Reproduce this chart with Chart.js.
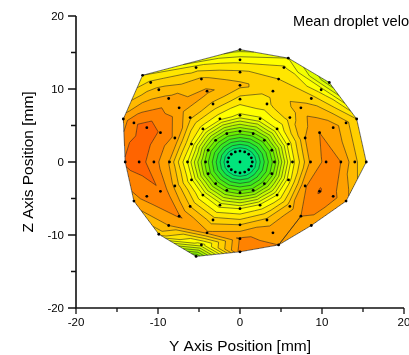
<!DOCTYPE html>
<html>
<head>
<meta charset="utf-8">
<script src="https://cdn.jsdelivr.net/npm/chart.js@4.4.1/dist/chart.umd.min.js"></script>
<style>
  html, body { margin: 0; background: #fff; }
  canvas { display: block; }
</style>
</head>
<body>
<canvas id="chart" width="409" height="355"></canvas>
<script>
// measurement grid: polar positions (deg, mm) and read-off velocity level per ring
const angles = [0, 22.5, 45, 67.5, 90, 112.5, 135, 157.5, 180, 202.5, 225, 247.5, 270, 292.5, 315, 337.5];
const radii = [1.5, 4.2, 6.4, 8.6, 10.5, 12.3, 14.0, 15.4, 16.8];
const centerValue = 0.0;
const ring15  = [0.05, 0.05, 0.05, 0.05, 0.05, 0.05, 0.05, 0.05, 0.05, 0.05, 0.05, 0.05, 0.05, 0.05, 0.05, 0.05];
const ring42  = [5.5, 5.6, 5.6, 5.7, 5.8, 5.8, 5.9, 5.8, 5.7, 5.6, 5.7, 5.6, 5.6, 5.5, 5.6, 5.5];
const ring64  = [11.6, 11.5, 11.0, 10.8, 10.8, 11.3, 11.5, 11.8, 11.0, 11.2, 11.0, 10.6, 11.0, 11.2, 11.0, 11.5];
const ring86  = [15.2, 15.0, 13.5, 12.8, 12.6, 13.8, 14.2, 15.8, 14.9, 14.8, 14.0, 13.5, 14.0, 14.3, 14.6, 15.9];
const ring105 = [16.3, 16.0, 14.5, 13.2, 14.3, 15.2, 15.5, 16.9, 16.5, 16.9, 16.1, 15.2, 16.1, 15.8, 16.0, 17.1];
const ring123 = [16.0, 15.5, 13.5, 13.0, 13.2, 14.2, 15.3, 17.5, 17.4, 16.4, 15.0, 10.5, 16.3, 16.0, 15.5, 16.3];
const ring140 = [14.3, 14.3, 11.5, 12.2, 11.6, 12.5, 14.3, 16.8, 17.2, 15.6, 13.5, 5.0, null, null, null, 15.3];
const ring154 = [13.0, 13.0, 8.3, 11.0, 9.6, null, 13.2, 15.5, null, null, null, null, null, null, null, null];
const ring168 = [null, null, null, null, null, null, 12.0, null, null, null, null, null, null, null, null, null];
const rings = [ring15, ring42, ring64, ring86, ring105, ring123, ring140, ring154, ring168];

const levels = [1, 2, 3, 4, 5, 6, 7, 8, 9, 10, 11, 12, 13, 14, 15, 16, 17, 18, 19];
const bandColors = [
  '#00e47c', '#0ae45c', '#1ee63c', '#37e923', '#50ec0f', '#6cef00', '#8cf300', '#aaf700',
  '#c6fa00', '#defd00', '#f2ff00', '#ffff00', '#ffe600', '#ffd000', '#ffb900', '#ffa000',
  '#ff8200', '#ff6400', '#ff4b00', '#fa3200'
];

const points = [{ x: 0, y: 0, v: centerValue }];
rings.forEach((row, ri) => {
  row.forEach((v, ai) => {
    if (v === null) return;
    const a = angles[ai] * Math.PI / 180;
    points.push({ x: radii[ri] * Math.cos(a), y: radii[ri] * Math.sin(a), v: v });
  });
});

// Bowyer-Watson triangulation of the measurement points
function triangulate(pts) {
  const n = pts.length;
  const P = pts.map(p => [p.x, p.y]);
  const M = 2000;
  P.push([-M, -M], [M, -M], [0, M]);
  function circ(t) {
    const [ax, ay] = P[t[0]], [bx, by] = P[t[1]], [cx, cy] = P[t[2]];
    const d = 2 * (ax * (by - cy) + bx * (cy - ay) + cx * (ay - by));
    const a2 = ax * ax + ay * ay, b2 = bx * bx + by * by, c2 = cx * cx + cy * cy;
    const ux = (a2 * (by - cy) + b2 * (cy - ay) + c2 * (ay - by)) / d;
    const uy = (a2 * (cx - bx) + b2 * (ax - cx) + c2 * (bx - ax)) / d;
    return [ux, uy, (ax - ux) ** 2 + (ay - uy) ** 2];
  }
  let tris = [{ v: [n, n + 1, n + 2], c: null }];
  tris[0].c = circ(tris[0].v);
  for (let i = 0; i < n; i++) {
    const [px, py] = P[i];
    const keep = [], edges = new Map();
    for (const t of tris) {
      const [ux, uy, r2] = t.c;
      if ((px - ux) ** 2 + (py - uy) ** 2 < r2 * (1 - 1e-7)) {
        const v = t.v;
        [[v[0], v[1]], [v[1], v[2]], [v[2], v[0]]].forEach(([a, b]) => {
          const k = a < b ? a + ',' + b : b + ',' + a;
          if (edges.has(k)) edges.delete(k); else edges.set(k, [a, b]);
        });
      } else keep.push(t);
    }
    tris = keep;
    for (const [a, b] of edges.values()) {
      const t = { v: [a, b, i] };
      t.c = circ(t.v);
      tris.push(t);
    }
  }
  return tris.map(t => t.v).filter(v => v[0] < n && v[1] < n && v[2] < n);
}

function hexRgb(h) {
  return [parseInt(h.slice(1, 3), 16), parseInt(h.slice(3, 5), 16), parseInt(h.slice(5, 7), 16)];
}
function bandOf(v) {
  let k = 0;
  while (k < levels.length && v >= levels[k]) k++;
  return k;
}

const contourPlugin = {
  id: 'contour',
  beforeDatasetsDraw(chart) {
    const { ctx, chartArea: a, scales: { x: sx, y: sy } } = chart;
    const tris = triangulate(points);
    const P = points.map(p => ({ x: sx.getPixelForValue(p.x), y: sy.getPixelForValue(p.y), v: p.v }));
    const rgb = bandColors.map(hexRgb);

    const W = Math.round(a.right - a.left), H = Math.round(a.bottom - a.top);
    const off = document.createElement('canvas');
    off.width = W; off.height = H;
    const octx = off.getContext('2d');
    const img = octx.createImageData(W, H);
    for (const t of tris) {
      const p0 = P[t[0]], p1 = P[t[1]], p2 = P[t[2]];
      const den = (p1.y - p2.y) * (p0.x - p2.x) + (p2.x - p1.x) * (p0.y - p2.y);
      if (Math.abs(den) < 1e-9) continue;
      const x0 = Math.max(0, Math.floor(Math.min(p0.x, p1.x, p2.x) - a.left));
      const x1 = Math.min(W - 1, Math.ceil(Math.max(p0.x, p1.x, p2.x) - a.left));
      const y0 = Math.max(0, Math.floor(Math.min(p0.y, p1.y, p2.y) - a.top));
      const y1 = Math.min(H - 1, Math.ceil(Math.max(p0.y, p1.y, p2.y) - a.top));
      for (let j = y0; j <= y1; j++) {
        for (let i = x0; i <= x1; i++) {
          const cx = a.left + i + 0.5, cy = a.top + j + 0.5;
          const l0 = ((p1.y - p2.y) * (cx - p2.x) + (p2.x - p1.x) * (cy - p2.y)) / den;
          const l1 = ((p2.y - p0.y) * (cx - p2.x) + (p0.x - p2.x) * (cy - p2.y)) / den;
          const l2 = 1 - l0 - l1;
          if (l0 < -1e-6 || l1 < -1e-6 || l2 < -1e-6) continue;
          const c = rgb[bandOf(l0 * p0.v + l1 * p1.v + l2 * p2.v)];
          const o = (j * W + i) * 4;
          img.data[o] = c[0]; img.data[o + 1] = c[1]; img.data[o + 2] = c[2]; img.data[o + 3] = 255;
        }
      }
    }
    octx.putImageData(img, 0, 0);
    ctx.save();
    ctx.drawImage(off, a.left, a.top);

    // contour lines
    ctx.beginPath();
    for (const t of tris) {
      const q = [P[t[0]], P[t[1]], P[t[2]]];
      for (const L of levels) {
        const hits = [];
        for (let e = 0; e < 3; e++) {
          const A = q[e], B = q[(e + 1) % 3];
          if ((A.v >= L) !== (B.v >= L)) {
            const f = (L - A.v) / (B.v - A.v);
            hits.push([A.x + f * (B.x - A.x), A.y + f * (B.y - A.y)]);
          }
        }
        if (hits.length === 2) {
          ctx.moveTo(hits[0][0], hits[0][1]);
          ctx.lineTo(hits[1][0], hits[1][1]);
        }
      }
    }
    ctx.strokeStyle = 'rgba(35,35,35,0.8)';
    ctx.lineWidth = 0.7;
    ctx.stroke();

    // outline of the measured region
    const edgeCount = new Map();
    for (const t of tris) {
      [[t[0], t[1]], [t[1], t[2]], [t[2], t[0]]].forEach(([m, n]) => {
        const k = m < n ? m + ',' + n : n + ',' + m;
        edgeCount.set(k, (edgeCount.get(k) || 0) + 1);
      });
    }
    ctx.beginPath();
    for (const [k, c] of edgeCount) {
      if (c !== 1) continue;
      const [m, n] = k.split(',').map(Number);
      ctx.moveTo(P[m].x, P[m].y);
      ctx.lineTo(P[n].x, P[n].y);
    }
    ctx.strokeStyle = 'rgba(60,60,60,0.9)';
    ctx.lineWidth = 0.8;
    ctx.stroke();
    ctx.restore();
  }
};

const axesPlugin = {
  id: 'axes',
  afterDraw(chart) {
    const { ctx, chartArea: a, scales: { x, y } } = chart;
    ctx.save();
    ctx.strokeStyle = '#111';
    ctx.lineWidth = 1.6;
    ctx.beginPath();
    ctx.moveTo(a.left, a.top);
    ctx.lineTo(a.left, a.bottom);
    ctx.lineTo(a.right, a.bottom);
    ctx.stroke();

    ctx.lineWidth = 1.3;
    ctx.beginPath();
    y.ticks.forEach(t => {
      const py = y.getPixelForValue(t.value);
      ctx.moveTo(a.left - (t.value % 10 === 0 ? 8 : 5), py);
      ctx.lineTo(a.left, py);
    });
    x.ticks.forEach(t => {
      const px = x.getPixelForValue(t.value);
      ctx.moveTo(px, a.bottom);
      ctx.lineTo(px, a.bottom + (t.value % 10 === 0 ? 6 : 4));
    });
    ctx.stroke();

    ctx.fillStyle = '#000';
    ctx.font = '11.5px "Liberation Sans", Arial, sans-serif';
    ctx.textBaseline = 'alphabetic';
    ctx.textAlign = 'right';
    y.ticks.forEach(t => {
      if (t.value % 10 !== 0) return;
      ctx.fillText(String(t.value), a.left - 12, y.getPixelForValue(t.value) + 4);
    });
    ctx.textAlign = 'center';
    x.ticks.forEach(t => {
      if (t.value % 10 !== 0) return;
      ctx.fillText(String(t.value), x.getPixelForValue(t.value), a.bottom + 18);
    });

    ctx.font = '15.5px "Liberation Sans", Arial, sans-serif';
    ctx.fillText('Y Axis Position [mm]', (a.left + a.right) / 2, 351);
    ctx.save();
    ctx.translate(33, (a.top + a.bottom) / 2);
    ctx.rotate(-Math.PI / 2);
    ctx.fillText('Z Axis Position [mm]', 0, 0);
    ctx.restore();

    ctx.font = '14.6px "Liberation Sans", Arial, sans-serif';
    ctx.textAlign = 'left';
    ctx.fillText('Mean droplet velocity [m/s]', 293, 26);
    ctx.restore();
  }
};

new Chart(document.getElementById('chart'), {
  type: 'scatter',
  data: {
    datasets: [{
      data: points,
      pointRadius: 1.4,
      pointBackgroundColor: '#000',
      pointBorderWidth: 0,
      showLine: false
    }]
  },
  options: {
    responsive: false,
    animation: false,
    devicePixelRatio: 1,
    layout: { padding: { left: 76, right: 5, top: 16, bottom: 47 } },
    plugins: { legend: { display: false }, tooltip: { enabled: false } },
    scales: {
      x: {
        type: 'linear', min: -20, max: 20,
        ticks: { stepSize: 5, display: false },
        grid: { display: false, drawTicks: false }, border: { display: false }
      },
      y: {
        type: 'linear', min: -20, max: 20,
        ticks: { stepSize: 5, display: false },
        grid: { display: false, drawTicks: false }, border: { display: false }
      }
    }
  },
  plugins: [contourPlugin, axesPlugin]
});
</script>
</body>
</html>
